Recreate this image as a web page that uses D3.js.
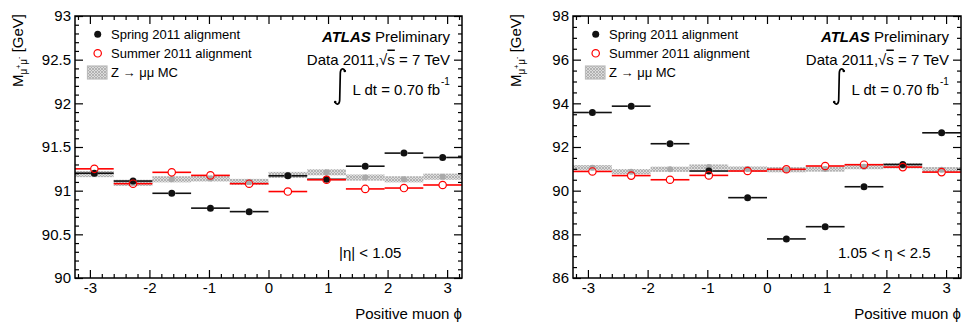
<!DOCTYPE html>
<html><head><meta charset="utf-8">
<script src="https://cdn.jsdelivr.net/npm/d3@7"></script>
<style>body{margin:0;background:#fff} svg text{font-family:"Liberation Sans",Arial,Helvetica,sans-serif;fill:#000}</style>
</head><body><svg id="c" width="962" height="322"></svg>
<script>
// ---- data ----
const phiCenters = [-2.925,-2.275,-1.625,-0.975,-0.325,0.325,0.975,1.625,2.275,2.925];
const binHalfWidth = 0.325;
const barrelSpring = [91.20,91.11,90.97,90.80,90.76,91.17,91.13,91.28,91.43,91.38];
const barrelSummer = [91.25,91.08,91.21,91.175,91.08,90.99,91.125,91.02,91.03,91.065];
const barrelMC     = [91.19,91.09,91.13,91.14,91.10,91.18,91.21,91.15,91.13,91.16];
const barrelMCErr  = 0.035;
const endcapSpring = [93.58,93.87,92.15,90.90,89.68,87.79,88.35,90.18,91.20,92.65];
const endcapSummer = [90.88,90.69,90.50,90.70,90.90,90.98,91.13,91.19,91.08,90.85];
const endcapMC     = [91.05,90.87,90.98,91.08,90.99,90.96,90.99,91.10,91.14,90.96];
const endcapMCErr  = 0.12;
const xTickLabels = [-3,-2,-1,0,1,2,3];
const yTicksBarrel = [90,90.5,91,91.5,92,92.5,93];
const yTicksEndcap = [86,88,90,92,94,96,98];
const legendLabels = ["Spring 2011 alignment","Summer 2011 alignment","Z \u2192 \u03bc\u03bc MC"];

const svg = d3.select("#c");
const defs = svg.append("defs");
const pat = defs.append("pattern").attr("id","hatch").attr("patternUnits","userSpaceOnUse")
  .attr("width",3).attr("height",3);
pat.append("rect").attr("width",3).attr("height",3).attr("fill","#dcdcdc");
pat.append("path").attr("d","M0,0L3,3M3,0L0,3").attr("stroke","#a8a8a8").attr("stroke-width",0.8);

function panel(opt){
  const L=opt.left, R=opt.right, T=16, B=278;
  const g = svg.append("g");
  const x = d3.scaleLinear().domain([-3.25,3.25]).range([L,R]);
  const y = d3.scaleLinear().domain(opt.ydom).range([B,T]);
  const xMinor = d3.range(-32,33,2).map(v=>v/10).filter(v=>Math.abs(v-Math.round(v))>1e-6);
  const yMinor = d3.range(opt.ydom[0],opt.ydom[1]+1e-9,opt.ymin).filter(v=>!opt.yticks.some(t=>Math.abs(t-v)<1e-6));

  // MC band
  const mc = g.append("g");
  opt.mc.forEach((v,i)=>{
    mc.append("rect").attr("x",x(phiCenters[i]-binHalfWidth)).attr("width",x(phiCenters[i]+binHalfWidth)-x(phiCenters[i]-binHalfWidth))
      .attr("y",y(v+opt.mcErr)).attr("height",y(v-opt.mcErr)-y(v+opt.mcErr)).attr("fill","url(#hatch)");
    mc.append("circle").attr("cx",x(phiCenters[i])).attr("cy",y(v)).attr("r",3).attr("fill","#a9a9a9");
  });
  function series(vals,color,open){
    const s = g.append("g");
    const r = open?3.7:3.5;
    vals.forEach((v,i)=>{
      const cx=x(phiCenters[i]), cy=y(v);
      s.append("line").attr("x1",x(phiCenters[i]-binHalfWidth)).attr("x2",cx-r).attr("y1",cy).attr("y2",cy)
        .attr("stroke",color).attr("stroke-width",1.6);
      s.append("line").attr("x1",cx+r).attr("x2",x(phiCenters[i]+binHalfWidth)).attr("y1",cy).attr("y2",cy)
        .attr("stroke",color).attr("stroke-width",1.6);
      s.append("circle").attr("cx",cx).attr("cy",cy).attr("r",r)
        .attr("fill",open?"none":color).attr("stroke",color).attr("stroke-width",open?1.2:0);
    });
  }
  series(opt.spring,"#111",false);
  series(opt.summer,"#ff0000",true);

  // axes
  const ax = (gen,tr)=>{const a=g.append("g").attr("transform",tr).call(gen);a.select(".domain").remove();a.selectAll("line").attr("stroke","#000").attr("stroke-width",1.2);return a;};
  const xa = ax(d3.axisBottom(x).tickValues(xTickLabels).tickSize(-8).tickPadding(4).tickFormat(d=>d),`translate(0,${B})`);
  xa.selectAll("text").attr("font-size",15).attr("fill","#000");
  ax(d3.axisBottom(x).tickValues(xMinor).tickSize(-4).tickFormat(""),`translate(0,${B})`);
  ax(d3.axisTop(x).tickValues(xTickLabels).tickSize(-8).tickFormat(""),`translate(0,${T})`);
  ax(d3.axisTop(x).tickValues(xMinor).tickSize(-4).tickFormat(""),`translate(0,${T})`);
  const ya = ax(d3.axisLeft(y).tickValues(opt.yticks).tickSize(-8).tickPadding(4).tickFormat(d=>d),`translate(${L},0)`);
  ya.selectAll("text").attr("font-size",15).attr("fill","#000");
  ax(d3.axisLeft(y).tickValues(yMinor).tickSize(-4).tickFormat(""),`translate(${L},0)`);
  ax(d3.axisRight(y).tickValues(opt.yticks).tickSize(-8).tickFormat(""),`translate(${R},0)`);
  ax(d3.axisRight(y).tickValues(yMinor).tickSize(-4).tickFormat(""),`translate(${R},0)`);
  g.append("rect").attr("x",L).attr("y",T).attr("width",R-L).attr("height",B-T)
    .attr("fill","none").attr("stroke","#000").attr("stroke-width",1.5);

  // axis titles
  g.append("text").attr("x",R).attr("y",319).attr("text-anchor","end").attr("font-size",15).text("Positive muon \u03d5");
  const yt = g.append("text").attr("transform",`translate(${opt.ytx},14) rotate(-90)`).attr("text-anchor","end").attr("font-size",15);
  yt.append("tspan").text("M");
  yt.append("tspan").attr("font-size",10).attr("dy",4).text("\u03bc");
  yt.append("tspan").attr("font-size",7).attr("dy",-6).text("+");
  yt.append("tspan").attr("font-size",10).attr("dy",6).text("\u03bc");
  yt.append("tspan").attr("font-size",7).attr("dy",-6).text("-");
  yt.append("tspan").attr("dy",2).text(" [GeV]");

  // legend
  const lx=L+22.7;
  g.append("circle").attr("cx",lx).attr("cy",34.3).attr("r",3.5).attr("fill","#111");
  g.append("circle").attr("cx",lx).attr("cy",53.3).attr("r",3.7).attr("fill","none").attr("stroke","#ff0000").attr("stroke-width",1.2);
  g.append("rect").attr("x",L+12.5).attr("y",66).attr("width",19.5).attr("height",13).attr("fill","url(#hatch)")
    .attr("stroke","#bbb").attr("stroke-width",1.2);
  [38.5,57.5,76.5].forEach((yy,i)=>g.append("text").attr("x",L+36).attr("y",yy).attr("font-size",13).text(legendLabels[i]));

  // annotations
  const at = g.append("text").attr("x",R-12).attr("y",41.5).attr("text-anchor","end").attr("font-size",15);
  at.append("tspan").attr("font-weight","bold").attr("font-style","italic").text("ATLAS");
  at.append("tspan").text(" Preliminary");
  const dt = g.append("text").attr("x",R-12).attr("y",64.5).attr("text-anchor","end").attr("font-size",15);
  dt.append("tspan").text("Data 2011,\u221a");
  dt.append("tspan").style("text-decoration","overline").text("s");
  dt.append("tspan").text(" = 7 TeV");
  // integral sign
  const ix = R-127;
  g.append("path").attr("d",`M${ix+10},71 C${ix+8.5},67.5 ${ix+5.5},68.5 ${ix+5.3},73 L${ix+4.7},100 C${ix+4.5},104.5 ${ix+1.5},105.5 ${ix},102`)
    .attr("fill","none").attr("stroke","#000").attr("stroke-width",1.7);
  g.append("circle").attr("cx",ix+9.8).attr("cy",71).attr("r",1.3).attr("fill","#000");
  g.append("circle").attr("cx",ix+0.2).attr("cy",102).attr("r",1.3).attr("fill","#000");
  const lt = g.append("text").attr("x",R-22).attr("y",95).attr("text-anchor","end").attr("font-size",15);
  lt.append("tspan").text("L dt = 0.70 fb");
  g.append("text").attr("x",R-21).attr("y",85).attr("font-size",10).text("-1");
  g.append("text").attr("x",opt.regX).attr("y",258).attr("font-size",15).text(opt.region);
}

panel({left:75,right:462,ydom:[90,93],yticks:yTicksBarrel,ymin:0.1,spring:barrelSpring,summer:barrelSummer,mc:barrelMC,mcErr:barrelMCErr,ytx:23,region:"|\u03b7| < 1.05",regX:339});
panel({left:573,right:961,ydom:[86,98],yticks:yTicksEndcap,ymin:0.5,spring:endcapSpring,summer:endcapSummer,mc:endcapMC,mcErr:endcapMCErr,ytx:521,region:"1.05 < \u03b7 < 2.5",regX:838});
</script></body></html>
